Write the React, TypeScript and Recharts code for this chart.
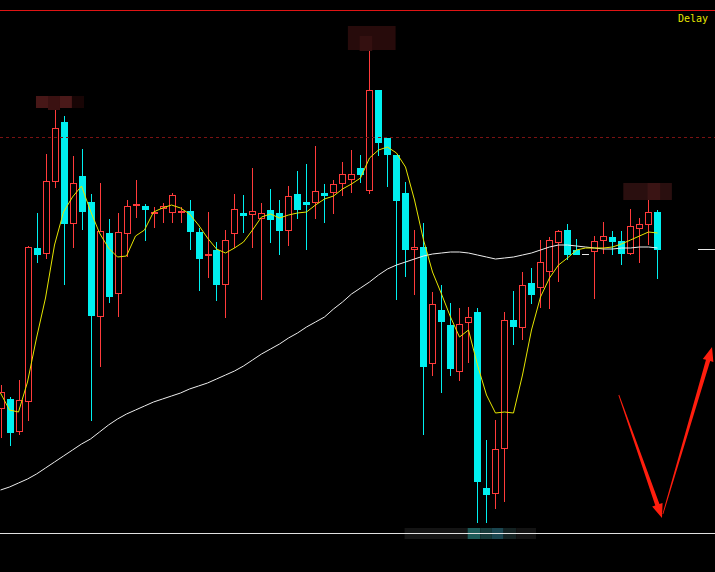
import {
  Bar,
  ComposedChart,
  Line,
  ReferenceArea,
  ReferenceLine,
  XAxis,
  YAxis,
} from "recharts";

// one entry per trading day, oldest first
const opens = [
  19.1, 20.1, 16.8, 19.8, 35.2, 34.6, 41.8, 47.8, 37.6, 42.4,
  39.8, 28.3, 36.7, 30.6, 36.6, 39.4, 39.4, 38.6, 39.1, 38.7,
  38.7, 38.9, 36.8, 34.4, 35.0, 31.5, 36.6, 38.7, 38.5, 38.1,
  39.0, 38.7, 36.9, 40.6, 39.8, 39.7, 40.7, 40.7, 41.6, 42.0,
  43.2, 40.9, 51.0, 46.2, 44.5, 40.7, 35.0, 35.3, 23.6, 29.0,
  27.5, 22.8, 27.7, 28.8, 11.2, 10.6, 15.1, 28.0, 27.2, 31.7,
  31.2, 32.8, 35.7, 37.0, 35.0, 34.6, 34.8, 35.9, 36.3, 35.9,
  34.6, 37.1, 37.5, 38.8,
];
const highs = [
  21.5, 20.3, 22.0, 35.4, 38.7, 44.6, 49.0, 48.4, 44.4, 45.1,
  40.6, 41.7, 38.1, 38.7, 40.0, 42.0, 39.6, 39.3, 39.7, 40.7,
  39.3, 40.0, 37.2, 38.8, 35.8, 37.0, 40.6, 40.5, 43.2, 39.7,
  41.1, 40.0, 41.4, 42.9, 43.6, 45.4, 41.6, 42.0, 43.8, 45.0,
  44.5, 54.9, 51.0, 46.2, 44.5, 41.8, 37.0, 37.7, 30.8, 31.5,
  29.7, 29.2, 29.3, 29.2, 16.0, 18.0, 28.8, 30.9, 32.8, 33.2,
  36.0, 36.3, 37.0, 37.6, 36.1, 34.6, 36.4, 37.8, 36.9, 36.9,
  39.1, 38.2, 40.0, 39.0,
];
const lows = [
  16.2, 15.4, 16.5, 17.9, 33.7, 34.1, 41.2, 31.5, 35.2, 37.0,
  17.9, 23.3, 29.7, 28.3, 34.3, 38.2, 35.9, 37.2, 37.7, 37.7,
  37.7, 35.0, 30.9, 32.2, 29.9, 28.2, 35.2, 36.7, 35.2, 30.0,
  35.7, 34.5, 35.4, 38.1, 35.0, 38.1, 37.7, 38.6, 40.4, 40.7,
  41.7, 40.6, 44.4, 41.3, 30.0, 32.3, 30.5, 16.5, 22.4, 20.7,
  22.4, 21.9, 23.7, 7.7, 7.7, 9.1, 9.8, 25.5, 26.0, 29.6,
  29.2, 29.1, 31.8, 34.0, 34.5, 34.6, 30.1, 34.6, 34.5, 33.5,
  34.5, 33.7, 35.5, 32.1,
];
const closes = [
  20.8, 16.7, 20.0, 35.3, 34.5, 41.9, 47.2, 37.6, 41.7, 38.8,
  28.4, 36.9, 30.3, 36.8, 39.4, 39.6, 39.0, 38.8, 39.4, 40.5,
  38.9, 36.8, 34.1, 34.6, 31.5, 36.0, 39.1, 38.4, 38.9, 38.7,
  38.0, 36.9, 40.4, 39.0, 39.5, 40.9, 40.4, 41.6, 42.6, 42.6,
  42.5, 51.0, 45.7, 44.5, 39.9, 35.0, 35.3, 23.3, 29.6, 27.8,
  23.1, 27.6, 28.3, 11.8, 10.5, 15.1, 28.0, 27.3, 31.5, 30.5,
  33.8, 36.0, 36.9, 34.5, 34.5, 34.6, 35.9, 36.4, 35.8, 34.6,
  37.4, 37.6, 38.8, 35.0,
];
// short (yellow) and long (white) moving averages
const maShort = [
  20.7, 19.0, 18.8, 21.8, 26.2, 30.2, 35.5, 38.8, 40.3, 41.4,
  38.9, 36.7, 35.2, 34.3, 34.4, 36.4, 37.0, 38.8, 39.2, 39.5,
  39.2, 38.6, 37.5, 36.2, 35.1, 34.7, 35.2, 35.8, 37.0, 38.3,
  38.6, 38.2, 38.5, 38.7, 38.8, 39.5, 40.1, 40.4, 41.1, 41.6,
  42.2, 44.2, 45.0, 45.3, 44.7, 43.3, 40.0, 36.0, 32.8, 30.6,
  28.3, 26.3, 27.0, 23.5, 20.5, 18.7, 18.8, 18.7, 22.5, 27.0,
  30.3, 32.2, 33.5, 34.2, 35.0, 35.2, 35.2, 35.2, 35.3, 35.6,
  36.0, 36.4, 36.8, 36.7,
];
const maLong = [
  11.0, 11.3, 11.7, 12.1, 12.6, 13.2, 13.8, 14.4, 15.0, 15.6,
  16.1, 16.8, 17.5, 18.1, 18.6, 19.0, 19.4, 19.8, 20.1, 20.4,
  20.7, 21.1, 21.4, 21.7, 22.1, 22.5, 22.9, 23.4, 24.0, 24.6,
  25.1, 25.6, 26.2, 26.7, 27.3, 27.8, 28.3, 29.1, 29.8, 30.6,
  31.2, 31.8, 32.5, 33.1, 33.5, 33.8, 34.1, 34.4, 34.6, 34.7,
  34.8, 34.8, 34.7, 34.5, 34.3, 34.1, 34.2, 34.3, 34.5, 34.7,
  35.0, 35.3, 35.5, 35.5, 35.4, 35.3, 35.2, 35.1, 35.1, 35.2,
  35.2, 35.3, 35.3, 35.2,
];

const lastPrice = 35.05;
const upperLevel = 58.95;
const dashedLevel = 46.25;
const lowerLevel = 6.65;

const data = opens.map((open, i) => ({
  i,
  open,
  high: highs[i],
  low: lows[i],
  close: closes[i],
  maShort: maShort[i],
  maLong: maLong[i],
}));

const RED = "#ff3b3b";
const CYAN = "#00f0f0";

function Candle(props: any) {
  const { x, y, width, height, payload } = props;
  const { open, close, high, low } = payload;
  const cx = Math.round(x + width / 2) + 0.5;
  const top = Math.min(y, y + height);
  const h = Math.abs(height);
  const range = high - low;
  const py = (v: number) =>
    Math.round(range === 0 ? top : top + ((high - v) / range) * h);
  const left = cx - 3.5;

  if (open === close) {
    const yy = py(open) + 0.5;
    return (
      <g>
        <line x1={cx} x2={cx} y1={py(high)} y2={py(low)} stroke="#e8e8e8" />
        <line x1={left} x2={left + 7} y1={yy} y2={yy} stroke="#e8e8e8" />
      </g>
    );
  }

  const bodyTop = py(Math.max(open, close));
  const bodyBot = Math.max(bodyTop + 1, py(Math.min(open, close)));

  if (close > open) {
    return (
      <g>
        <line x1={cx} x2={cx} y1={py(high)} y2={bodyTop} stroke={RED} />
        <line x1={cx} x2={cx} y1={bodyBot} y2={py(low)} stroke={RED} />
        <rect
          x={left + 0.5}
          y={bodyTop + 0.5}
          width={6}
          height={Math.max(0, bodyBot - bodyTop - 1)}
          fill="#000"
          stroke={RED}
        />
      </g>
    );
  }
  return (
    <g>
      <line x1={cx} x2={cx} y1={py(high)} y2={py(low)} stroke={CYAN} />
      <rect x={left} y={bodyTop} width={7} height={bodyBot - bodyTop} fill={CYAN} />
    </g>
  );
}

// tapered hand-drawn style arrow
function Arrow(props: any) {
  const { x1, y1, x2, y2 } = props;
  const dx = x2 - x1;
  const dy = y2 - y1;
  const len = Math.hypot(dx, dy) || 1;
  const ux = dx / len;
  const uy = dy / len;
  const nx = -uy;
  const ny = ux;
  const head = 14;
  const bx = x2 - ux * head;
  const by = y2 - uy * head;
  const pts = [
    [x1 + nx * 0.4, y1 + ny * 0.4],
    [bx + nx * 2.2, by + ny * 2.2],
    [bx + nx * 5.5, by + ny * 5.5],
    [x2, y2],
    [bx - nx * 5.5, by - ny * 5.5],
    [bx - nx * 2.2, by - ny * 2.2],
    [x1 - nx * 0.4, y1 - ny * 0.4],
  ];
  return <polygon points={pts.map((p) => p.join(",")).join(" ")} fill="#ff1e0e" />;
}

export default function App() {
  return (
    <div style={{ position: "fixed", left: 0, top: 0, width: 715, height: 572, background: "#000" }}>
      <ComposedChart
        width={715}
        height={572}
        data={data}
        margin={{ top: 0, right: 0, bottom: 0, left: 0 }}
        style={{ background: "#000" }}
      >
        <XAxis type="number" dataKey="i" domain={[-0.0556, 79.389]} hide allowDataOverflow />
        <YAxis type="number" domain={[2.8, 60]} hide allowDataOverflow />

        <ReferenceLine y={upperLevel} stroke="#e01414" strokeWidth={1} />
        <ReferenceLine y={dashedLevel} stroke="#7a1212" strokeDasharray="3 3" />
        <ReferenceLine y={lowerLevel} stroke="#e0e0e0" />
        <ReferenceLine
          segment={[
            { x: 77.5, y: lastPrice },
            { x: 79.38, y: lastPrice },
          ]}
          stroke="#e8e8e8"
        />

        {/* mosaic blocks over the price labels */}
        <ReferenceArea x1={3.94} x2={5.28} y1={50.4} y2={49.2} fill="#471717" fillOpacity={1} stroke="none" ifOverflow="visible" />
        <ReferenceArea x1={5.28} x2={6.61} y1={50.4} y2={49.0} fill="#3a1111" fillOpacity={1} stroke="none" ifOverflow="visible" />
        <ReferenceArea x1={6.61} x2={7.94} y1={50.4} y2={49.2} fill="#4a1919" fillOpacity={1} stroke="none" ifOverflow="visible" />
        <ReferenceArea x1={7.94} x2={9.28} y1={50.4} y2={49.2} fill="#180505" fillOpacity={1} stroke="none" ifOverflow="visible" />
        <ReferenceArea x1={38.6} x2={43.9} y1={57.4} y2={55.0} fill="#270b0b" fillOpacity={1} stroke="none" ifOverflow="visible" />
        <ReferenceArea x1={39.9} x2={41.3} y1={56.4} y2={54.9} fill="#341010" fillOpacity={1} stroke="none" ifOverflow="visible" />
        <ReferenceArea x1={69.2} x2={74.6} y1={41.7} y2={40.0} fill="#2a0f0f" fillOpacity={1} stroke="none" ifOverflow="visible" />
        <ReferenceArea x1={71.9} x2={73.3} y1={41.7} y2={40.0} fill="#3a1414" fillOpacity={1} stroke="none" ifOverflow="visible" />
        <ReferenceArea x1={44.9} x2={51.9} y1={7.2} y2={6.1} fill="#141414" fillOpacity={1} stroke="none" ifOverflow="visible" />
        <ReferenceArea x1={51.9} x2={53.3} y1={7.2} y2={6.1} fill="#1d5b59" fillOpacity={1} stroke="none" ifOverflow="visible" />
        <ReferenceArea x1={53.3} x2={54.6} y1={7.2} y2={6.1} fill="#173a3a" fillOpacity={1} stroke="none" ifOverflow="visible" />
        <ReferenceArea x1={54.6} x2={55.9} y1={7.2} y2={6.1} fill="#1a4650" fillOpacity={1} stroke="none" ifOverflow="visible" />
        <ReferenceArea x1={55.9} x2={57.3} y1={7.2} y2={6.1} fill="#142222" fillOpacity={1} stroke="none" ifOverflow="visible" />
        <ReferenceArea x1={57.3} x2={59.5} y1={7.2} y2={6.1} fill="#131313" fillOpacity={1} stroke="none" ifOverflow="visible" />

        <Line
          type="linear"
          dataKey="maLong"
          stroke="#eeeeee"
          strokeWidth={1}
          dot={false}
          activeDot={false}
          isAnimationActive={false}
        />
        <Bar
          dataKey={(d: any) => [d.low, d.high]}
          barSize={7}
          shape={<Candle />}
          activeBar={false}
          isAnimationActive={false}
        />
        <Line
          type="linear"
          dataKey="maShort"
          stroke="#e6e600"
          strokeWidth={1}
          dot={false}
          activeDot={false}
          isAnimationActive={false}
        />

        <ReferenceLine
          segment={[
            { x: 68.7, y: 20.5 },
            { x: 73.5, y: 8.2 },
          ]}
          shape={(p: any) => <Arrow {...p} />}
          ifOverflow="visible"
        />
        <ReferenceLine
          segment={[
            { x: 73.6, y: 8.6 },
            { x: 79.06, y: 25.3 },
          ]}
          shape={(p: any) => <Arrow {...p} />}
          ifOverflow="visible"
        />
      </ComposedChart>
      <span
        style={{
          position: "absolute",
          left: 678,
          top: 13,
          color: "#e6e600",
          fontFamily: "'DejaVu Sans Mono', monospace",
          fontSize: 10,
          lineHeight: "12px",
        }}
      >
        Delay
      </span>
    </div>
  );
}
